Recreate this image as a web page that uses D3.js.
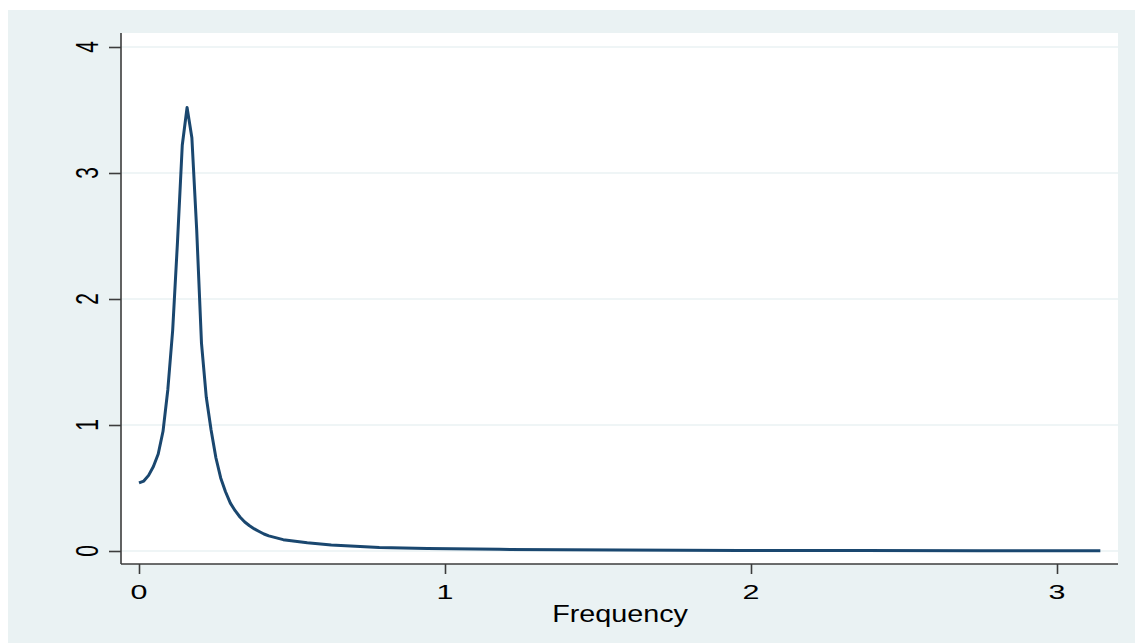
<!DOCTYPE html>
<html>
<head>
<meta charset="utf-8">
<script src="https://cdn.jsdelivr.net/npm/d3@7"></script>
<style>
  html, body { margin: 0; padding: 0; background: #fff; }
  svg { display: block; }
  text { font-family: "Liberation Sans", Arial, sans-serif; fill: #000; }
</style>
</head>
<body>
<div id="chart"></div>
<script>
// -------- Data --------
const frequency = [
  0.0000, 0.0157, 0.0314, 0.0471, 0.0628, 0.0785, 0.0942, 0.1100, 0.1257, 0.1414,
  0.1571, 0.1728, 0.1885, 0.2042, 0.2199, 0.2356, 0.2513, 0.2670, 0.2827, 0.2985,
  0.3142, 0.3299, 0.3456, 0.3613, 0.3770, 0.3927, 0.4084, 0.4241, 0.4398, 0.4712,
  0.5498, 0.6283, 0.7854, 0.9425, 1.1781, 1.5708, 1.9635, 2.3562, 2.7489, 3.1416
];
const density = [
  0.540, 0.555, 0.600, 0.670, 0.770, 0.950, 1.280, 1.750, 2.450, 3.220,
  3.520, 3.280, 2.550, 1.650, 1.220, 0.960, 0.740, 0.580, 0.470, 0.380,
  0.320, 0.270, 0.230, 0.200, 0.175, 0.155, 0.135, 0.120, 0.110, 0.090,
  0.065, 0.048, 0.028, 0.020, 0.013, 0.007, 0.004, 0.003, 0.0025, 0.002
];
const xTicks = [0, 1, 2, 3];
const yTicks = [0, 1, 2, 3, 4];
const xTitle = "Frequency";

// -------- Layout --------
const W = 1135, H = 643;
const plot = { left: 121, top: 33, right: 1118, bottom: 564 };
const bg = "#eaf2f3";
const lineColor = "#1a476f";
const axisColor = "#3c3c3c";

const svg = d3.select("#chart").append("svg")
  .attr("width", W).attr("height", H);

// outer background
svg.append("rect")
  .attr("x", 8).attr("y", 10)
  .attr("width", W - 8).attr("height", H - 10)
  .attr("fill", bg);

// plot region
svg.append("rect")
  .attr("x", plot.left).attr("y", plot.top)
  .attr("width", plot.right - plot.left).attr("height", plot.bottom - plot.top)
  .attr("fill", "#fff");

const x = d3.scaleLinear().domain([0, 3]).range([139, 1057]);
const y = d3.scaleLinear().domain([0, 4]).range([551, 47]);

// gridlines
svg.append("g")
  .selectAll("line")
  .data(yTicks)
  .join("line")
  .attr("x1", plot.left).attr("x2", plot.right)
  .attr("y1", d => y(d)).attr("y2", d => y(d))
  .attr("stroke", bg)
  .attr("stroke-width", 1.6);

// spectral density line
const pts = frequency.map((f, i) => [f, density[i]]);
svg.append("path")
  .datum(pts)
  .attr("d", d3.line().x(d => x(d[0])).y(d => y(d[1])))
  .attr("fill", "none")
  .attr("stroke", lineColor)
  .attr("stroke-width", 3)
  .attr("stroke-linejoin", "round");

// y axis
const yAxis = svg.append("g")
  .attr("transform", `translate(${plot.left},0)`)
  .call(d3.axisLeft(y).tickValues(yTicks).tickSize(12).tickFormat(""));
yAxis.select(".domain").remove();
yAxis.selectAll(".tick line").attr("stroke", axisColor).attr("stroke-width", 1.6);
svg.append("line")
  .attr("x1", plot.left).attr("x2", plot.left)
  .attr("y1", plot.top).attr("y2", plot.bottom)
  .attr("stroke", axisColor).attr("stroke-width", 1.6);

svg.append("g")
  .selectAll("text")
  .data(yTicks)
  .join("text")
  .attr("transform", d => `translate(98,${y(d)}) scale(1.45,1) rotate(-90)`)
  .attr("text-anchor", "middle")
  .attr("font-size", 21)
  .text(d => d);

// x axis
const xAxis = svg.append("g")
  .attr("transform", `translate(0,${plot.bottom})`)
  .call(d3.axisBottom(x).tickValues(xTicks).tickSize(10).tickFormat(""));
xAxis.select(".domain").remove();
xAxis.selectAll(".tick line").attr("stroke", axisColor).attr("stroke-width", 1.6);
svg.append("line")
  .attr("x1", plot.left).attr("x2", plot.right)
  .attr("y1", plot.bottom).attr("y2", plot.bottom)
  .attr("stroke", axisColor).attr("stroke-width", 1.6);

svg.append("g")
  .selectAll("text")
  .data(xTicks)
  .join("text")
  .attr("transform", d => `translate(${x(d)},599) scale(1.45,1)`)
  .attr("text-anchor", "middle")
  .attr("font-size", 21)
  .text(d => d);

// x title
svg.append("text")
  .attr("transform", "translate(620,622) scale(1.25,1)")
  .attr("text-anchor", "middle")
  .attr("font-size", 23)
  .text(xTitle);
</script>
</body>
</html>
